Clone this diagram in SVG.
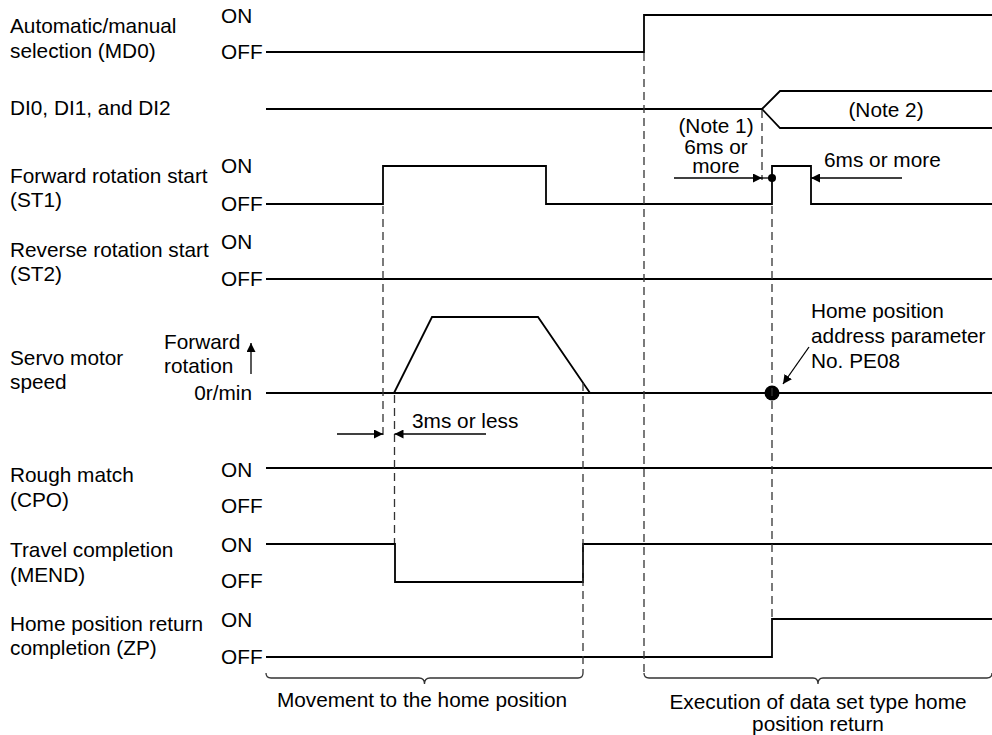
<svg xmlns="http://www.w3.org/2000/svg" width="992" height="735" viewBox="0 0 992 735">
<defs>
<style>
text{font-family:"Liberation Sans",Arial,sans-serif;font-size:20.8px;fill:#000}
.m{text-anchor:middle}
.e{text-anchor:end}
.w{fill:none;stroke:#000;stroke-width:1.8;stroke-linejoin:miter}
.d{fill:none;stroke:#333;stroke-width:1.3;stroke-dasharray:8 5}
.a{fill:none;stroke:#000;stroke-width:1.3}
.b{fill:none;stroke:#333;stroke-width:1.3}
</style>
<marker id="ah" viewBox="0 0 10 10" refX="10" refY="5" markerWidth="9" markerHeight="9" markerUnits="userSpaceOnUse" orient="auto">
<path d="M0,0 L10,5 L0,10 Z" fill="#000"/>
</marker>
</defs>
<rect width="992" height="735" fill="#fff"/>

<g id="md0">
<text x="10" y="33">Automatic/manual</text>
<text x="10" y="58">selection (MD0)</text>
<text x="221" y="23">ON</text>
<text x="221" y="59">OFF</text>
<path class="w" d="M266,52 H644 V15 H992"/>
</g>

<g id="di">
<text x="10" y="115">DI0, DI1, and DI2</text>
<path class="w" d="M266,109 H762 L780,91 H992 M762,109 L780,128 H992"/>
<text class="m" x="886" y="117">(Note 2)</text>
</g>

<g id="st1">
<text x="10" y="183">Forward rotation start</text>
<text x="10" y="207">(ST1)</text>
<text x="221" y="173">ON</text>
<text x="221" y="211">OFF</text>
<path class="w" d="M266,204 H383 V166 H546 V204 H772 V166 H811 V204 H992"/>
</g>

<g id="st2">
<text x="10" y="257">Reverse rotation start</text>
<text x="10" y="281">(ST2)</text>
<text x="221" y="249">ON</text>
<text x="221" y="286">OFF</text>
<path class="w" d="M266,279 H992"/>
</g>

<g id="speed">
<text x="10" y="365">Servo motor</text>
<text x="10" y="389">speed</text>
<text x="164" y="349">Forward</text>
<text x="164" y="373">rotation</text>
<text class="e" x="252" y="400">0r/min</text>
<path class="w" d="M266,393 H992 M394,393 L432,317 H538 L590,393"/>
<circle cx="772" cy="393" r="7.5" fill="#000"/>
<text x="811" y="318">Home position</text>
<text x="811" y="343">address parameter</text>
<text x="811" y="368">No. PE08</text>
</g>

<g id="cpo">
<text x="10" y="482">Rough match</text>
<text x="10" y="507">(CPO)</text>
<text x="221" y="477">ON</text>
<text x="221" y="513">OFF</text>
<path class="w" d="M266,468 H992"/>
</g>

<g id="mend">
<text x="10" y="557">Travel completion</text>
<text x="10" y="582">(MEND)</text>
<text x="221" y="552">ON</text>
<text x="221" y="588">OFF</text>
<path class="w" d="M266,544 H395 V582 H583 V544 H992"/>
</g>

<g id="zp">
<text x="10" y="631">Home position return</text>
<text x="10" y="655">completion (ZP)</text>
<text x="221" y="627">ON</text>
<text x="221" y="664">OFF</text>
<path class="w" d="M266,657 H772 V619 H992"/>
</g>

<g id="phases">
<path class="b" d="M266,673 Q266,678 271,678 H419 Q424.5,678 424.5,684 Q424.5,678 430,678 H578 Q583,678 583,673"/>
<text class="m" x="422" y="707">Movement to the home position</text>
<path class="b" d="M644,673 Q644,678 649,678 H813 Q818,678 818,684 Q818,678 823,678 H987 Q992,678 992,673"/>
<text class="m" x="818" y="709">Execution of data set type home</text>
<text class="m" x="818" y="731">position return</text>
</g>

<g id="connectors">
<line class="d" x1="644" y1="53" x2="644" y2="673"/>
<line class="d" x1="762" y1="110" x2="762" y2="180"/>
<line class="d" x1="772" y1="206" x2="772" y2="618"/>
<line class="d" x1="383" y1="206" x2="383" y2="440"/>
<line class="d" x1="394.5" y1="395" x2="394.5" y2="543"/>
<line class="d" x1="583" y1="383" x2="583" y2="673"/>
<line class="a" x1="674" y1="178" x2="762" y2="178" marker-end="url(#ah)"/>
<line class="a" x1="762" y1="178" x2="772" y2="178"/>
<circle cx="772" cy="178" r="4" fill="#000"/>
<line class="a" x1="902" y1="178" x2="811" y2="178" marker-end="url(#ah)"/>
<text class="m" x="716" y="133">(Note 1)</text>
<text class="m" x="716" y="154">6ms or</text>
<text class="m" x="716" y="173">more</text>
<text x="824" y="167">6ms or more</text>
<line class="a" x1="337" y1="434" x2="383" y2="434" marker-end="url(#ah)"/>
<line class="a" x1="486" y1="434" x2="394.5" y2="434" marker-end="url(#ah)"/>
<text x="412" y="428">3ms or less</text>
<line class="a" x1="251" y1="374" x2="251" y2="343" marker-end="url(#ah)"/>
<line class="a" x1="809" y1="347" x2="783" y2="384" marker-end="url(#ah)"/>
</g>
</svg>
